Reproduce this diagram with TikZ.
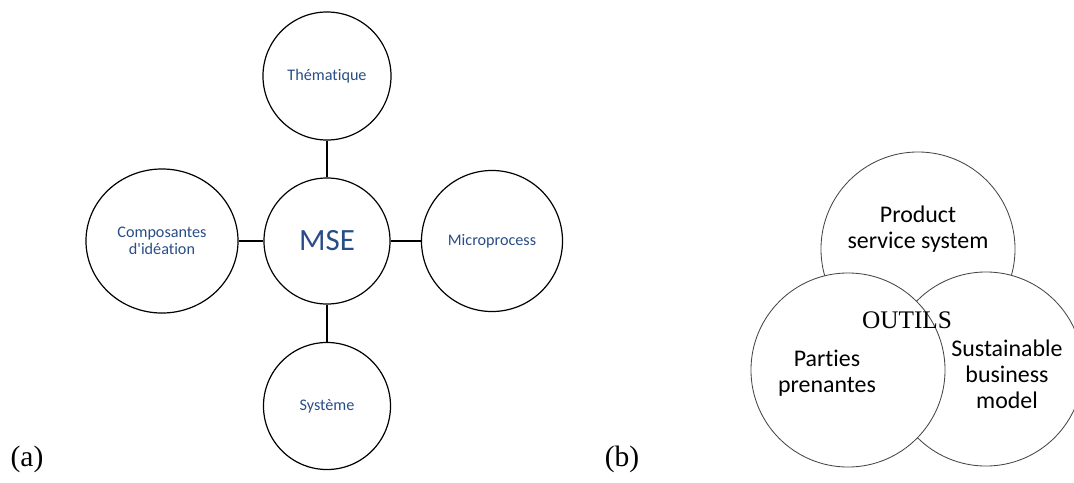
\documentclass[tikz,border=0pt]{standalone}
\usepackage{fontspec}
\setmainfont{Liberation Serif}
\newfontfamily\calibri[Ligatures=NoCommon]{Carlito}
\usetikzlibrary{shapes.geometric}

\definecolor{mseblue}{RGB}{41,78,135}
\definecolor{rimgray}{RGB}{70,70,70}

\tikzset{
  bubble/.style={circle, draw=black, line width=0.85pt, fill=white, inner sep=0pt,
    font=\calibri\fontsize{11.5}{12.3}\selectfont, text=mseblue, align=center},
  link/.style={line width=0.85pt},
  toolring/.style={circle, draw=rimgray, line width=0.6pt, fill=white, inner sep=0pt,
    minimum size=4.85cm},
  tooltext/.style={font=\calibri\fontsize{17}{18.5}\selectfont, align=center},
}

\begin{document}
\begin{tikzpicture}[x=0.025cm, y=-0.025cm]
  \clip (0,0) rectangle (1074,482);

  % (a) MSE with its four branches
  \node[bubble, minimum size=3.15cm, font=\calibri\fontsize{22}{24}\selectfont] (mse) at (327,241) {MSE};
  \node[bubble, minimum size=3.2cm] (thematique) at (327,76) {Th\'ematique};
  \node[bubble, minimum size=3.175cm] (systeme) at (327,406) {Syst\`eme};
  \node[bubble, ellipse, minimum width=3.8cm, minimum height=3.6cm] (composantes) at (162,241) {Composantes\\d'id\'eation};
  \node[bubble, minimum size=3.525cm] (microprocess) at (492,241) {Microprocess};

  % spokes
  \draw[link] (thematique) -- (mse);
  \draw[link] (systeme) -- (mse);
  \draw[link] (composantes) -- (mse);
  \draw[link] (microprocess) -- (mse);

  % (b) three overlapping rings, back to front
  \node[toolring] (pss) at (918,249) {};
  \node[tooltext] (psstext) at (918,229) {Product\\service system};
  \node[toolring] (sbm) at (986,369) {};
  \node[tooltext] (sbmtext) at (1007,374) {Sustainable\\business\\model};
  \node[toolring] (parties) at (848,370) {};
  \node[tooltext] (partiestext) at (827,373) {Parties\\prenantes};
  \node[font=\fontsize{18}{20}\selectfont] (outils) at (907,320) {OUTILS};

  % sub-figure tags
  \node[font=\fontsize{21}{24}\selectfont] (taga) at (27,459) {(a)};
  \node[font=\fontsize{21}{24}\selectfont] (tagb) at (622,459) {(b)};
\end{tikzpicture}
\end{document}
